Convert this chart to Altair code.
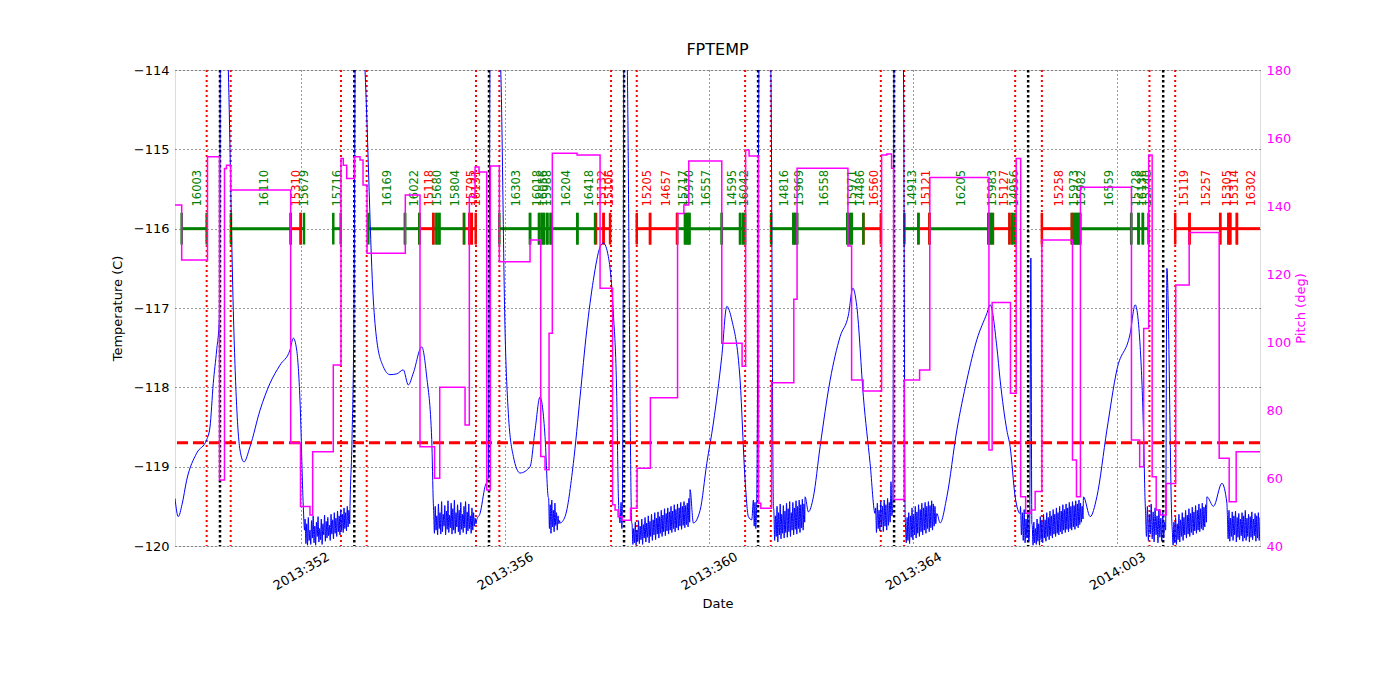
import altair as alt
import pandas as pd
import numpy as np

GREEN = "#008000"
RED = "#ff0000"
BLUE = "#0000ff"
MAGENTA = "#ff00ff"
FONT = "DejaVu Sans"

X_DOMAIN = [349.53, 370.80]
T_DOMAIN = [-120, -114]
P_DOMAIN = [40, 180]
X_TICKS = [352, 356, 360, 364, 368]
T_TICKS = [-120, -119, -118, -117, -116, -115, -114]
P_TICKS = [40, 60, 80, 100, 120, 140, 160, 180]
LIMIT_T = -118.7
SEG_Y = -116.0
TICK_LO, TICK_HI = -116.2, -115.8
LABEL_Y = -115.72

# ---- FPTEMP key points (day of year, continuing past 2013:365) ----
temp_days = [
    349.53, 349.594, 349.667, 349.759, 349.955, 350.151, 350.216, 350.280, 350.347, 350.398,
    350.431, 350.575, 350.673, 350.804, 350.882, 351.0, 351.196, 351.392, 351.588, 351.784,
    351.849, 351.916, 351.980, 352.045, 352.070,
    352.961, 353.0, 353.04, 353.078, 353.255, 353.418, 353.484, 353.614, 353.745, 353.876,
    354.006, 354.104, 354.202, 354.367, 354.465, 354.563, 354.594,
    355.445, 355.510, 355.608, 355.673, 355.69, 355.72, 355.916, 356.0, 356.065, 356.163,
    356.294, 356.490, 356.588, 356.686, 356.784, 356.845,
    357.078, 357.176, 357.339, 357.471, 357.602, 357.731, 357.863, 357.927, 358.025, 358.124,
    358.190, 358.222, 358.255, 358.275, 358.29, 358.30, 358.343, 358.398, 358.484,
    359.627, 359.692, 359.824, 359.955, 360.084, 360.249, 360.347, 360.445, 360.608, 360.706,
    360.771, 360.837, 360.869, 360.885, 360.90, 360.915, 360.935, 361.0, 361.210, 361.261,
    361.882, 361.947, 362.045, 362.176, 362.373, 362.569, 362.731, 362.818, 362.896, 363.025,
    363.157, 363.255,
    363.637, 363.810, 363.843,
    364.465, 364.529, 364.661, 364.857, 365.053, 365.249, 365.445, 365.510, 365.641, 365.706,
    365.837, 365.902, 366.0, 366.098,
    366.308, 366.327,
    367.339, 367.471, 367.602, 367.798, 367.994, 368.255, 368.353, 368.451, 368.516, 368.549,
    368.975, 369.073,
    369.759, 369.888, 370.053, 370.151,
]
temp_vals = [
    -119.40, -119.63, -119.48, -119.17, -118.83, -118.66, -118.50, -117.95, -117.53, -117.15,
    -112.0, -114.0, -117.03, -118.79, -118.94, -118.75, -118.29, -117.95, -117.72, -117.53,
    -117.38, -117.53, -118.16, -119.50, -119.80,
    -119.50, -118.66, -116.9, -112.0, -114.0, -116.90, -117.40, -117.74, -117.84, -117.83,
    -117.78, -117.97, -117.82, -117.49, -117.87, -118.66, -119.46,
    -119.67, -119.59, -119.25, -119.13, -116.5, -112.0, -114.0, -117.28, -118.33, -118.87,
    -119.08, -119.0, -118.54, -118.12, -118.62, -119.38,
    -119.71, -119.63, -118.96, -118.12, -117.28, -116.65, -116.23, -116.18, -116.35, -117.07,
    -118.12, -119.38, -119.71, -119.45, -119.78, -119.5, -112.0, -114.0, -119.71,
    -119.29, -119.71, -119.55, -118.96, -118.45, -117.61, -116.98, -117.15, -117.91, -119.17,
    -119.63, -119.67, -119.42, -119.75, -119.45, -119.78, -119.38, -112.0, -114.0, -119.50,
    -119.38, -119.57, -119.38, -118.75, -117.91, -117.36, -117.09, -116.75, -116.98, -118.12,
    -118.96, -119.59,
    -112.0, -114.0, -119.59,
    -119.59, -119.71, -119.38, -118.54, -117.91, -117.40, -117.07, -116.96, -117.49, -117.91,
    -118.54, -118.75, -119.38, -119.59,
    -116.37, -119.71,
    -119.38, -119.63, -119.38, -118.54, -117.78, -117.32, -116.96, -117.49, -118.54, -119.46,
    -116.50, -119.71,
    -119.38, -119.50, -119.21, -119.46,
]

# ---- noisy stretches of FPTEMP: (first day, last day, sampled values) ----
noise_r1 = [-119.66, -119.97, -119.72, -119.99, -119.64, -119.93, -119.80, -119.98, -119.68, -119.90,
            -119.62, -119.96, -119.75, -119.99, -119.70, -119.88, -119.63, -119.95, -119.78, -119.92,
            -119.66, -119.98, -119.72, -119.86, -119.61, -119.94, -119.69, -119.90, -119.64, -119.87,
            -119.74, -119.93, -119.60, -119.85, -119.67, -119.91, -119.58, -119.84, -119.65, -119.88,
            -119.56, -119.82, -119.62, -119.86, -119.54, -119.80, -119.60, -119.83, -119.52, -119.78,
            -119.58, -119.81, -119.50, -119.76, -119.55, -119.72]
noise_r2 = [-119.55, -119.84, -119.50, -119.80, -119.62, -119.86, -119.47, -119.78, -119.58, -119.85,
            -119.44, -119.82, -119.60, -119.75, -119.49, -119.86, -119.56, -119.79, -119.43, -119.83,
            -119.61, -119.77, -119.46, -119.85, -119.53, -119.80, -119.42, -119.84, -119.58, -119.76,
            -119.48, -119.82, -119.55, -119.86, -119.45, -119.79, -119.60, -119.83, -119.50, -119.77,
            -119.44, -119.85, -119.57, -119.81, -119.47, -119.78, -119.62, -119.84, -119.52, -119.80,
            -119.58, -119.75, -119.65, -119.72]
noise_r3 = [-119.40, -119.78, -119.48, -119.84, -119.42, -119.76, -119.55, -119.82, -119.46, -119.74,
            -119.58, -119.80, -119.62, -119.72, -119.68]
noise_r4 = [-119.72, -119.98, -119.78, -119.96, -119.70, -119.99, -119.80, -119.94, -119.68, -119.97,
            -119.75, -119.92, -119.66, -119.98, -119.73, -119.90, -119.64, -119.95, -119.71, -119.89,
            -119.62, -119.96, -119.69, -119.88, -119.60, -119.93, -119.67, -119.86, -119.58, -119.92,
            -119.65, -119.85, -119.57, -119.90, -119.63, -119.84, -119.55, -119.88, -119.61, -119.82,
            -119.53, -119.87, -119.59, -119.81, -119.52, -119.85, -119.57, -119.80, -119.50, -119.83,
            -119.56, -119.78, -119.48, -119.82, -119.54, -119.77, -119.47, -119.80, -119.52, -119.75,
            -119.45, -119.79, -119.50, -119.74, -119.44, -119.77, -119.49, -119.73, -119.46, -119.76,
            -119.40, -119.70]
noise_r5 = [-119.55, -119.93, -119.62, -119.88, -119.50, -119.95, -119.58, -119.86, -119.47, -119.91,
            -119.60, -119.84, -119.49, -119.90, -119.56, -119.83, -119.46, -119.89, -119.53, -119.82,
            -119.44, -119.88, -119.58, -119.80, -119.45, -119.86, -119.52, -119.79, -119.43, -119.85,
            -119.50, -119.78, -119.42, -119.83, -119.48, -119.77, -119.41, -119.80, -119.47, -119.70]
noise_r6 = [-119.52, -119.83, -119.46, -119.78, -119.55, -119.81, -119.44, -119.76, -119.50, -119.82,
            -119.42, -119.75, -119.48, -119.80, -119.40, -119.74, -119.45, -119.70, -119.19, -119.62,
            -119.50]
noise_r7 = [-119.72, -119.96, -119.64, -119.93, -119.58, -119.97, -119.62, -119.89, -119.52, -119.92,
            -119.60, -119.86, -119.50, -119.90, -119.57, -119.84, -119.48, -119.88, -119.54, -119.82,
            -119.46, -119.86, -119.52, -119.80, -119.45, -119.84, -119.50, -119.78, -119.44, -119.82,
            -119.49, -119.77, -119.43, -119.80, -119.47, -119.75, -119.50, -119.72, -119.60]
noise_r8 = [-119.50, -119.86, -119.58, -119.93, -119.54, -119.96, -119.66, -119.90, -119.60, -119.94,
            -119.75]
noise_r9 = [-119.74, -119.99, -119.70, -119.96, -119.78, -119.98, -119.66, -119.94, -119.72, -119.99,
            -119.63, -119.92, -119.69, -119.96, -119.60, -119.90, -119.67, -119.94, -119.58, -119.88,
            -119.64, -119.92, -119.56, -119.87, -119.62, -119.90, -119.54, -119.85, -119.60, -119.88,
            -119.52, -119.84, -119.58, -119.86, -119.50, -119.82, -119.56, -119.85, -119.48, -119.80,
            -119.54, -119.83, -119.47, -119.79, -119.52, -119.82, -119.45, -119.78, -119.50, -119.80,
            -119.44, -119.76, -119.49, -119.79, -119.43, -119.75, -119.47, -119.77, -119.42, -119.73,
            -119.46, -119.70, -119.50, -119.66]
noise_r10 = [-119.55, -119.88, -119.50, -119.93, -119.60, -119.85, -119.47, -119.91, -119.57, -119.95,
             -119.52, -119.86, -119.62, -119.96, -119.54, -119.89, -119.65, -119.94, -119.58, -119.90,
             -119.70, -119.80]
noise_r11 = [-119.80, -119.99, -119.70, -119.96, -119.64, -119.98, -119.72, -119.92, -119.60, -119.95,
             -119.67, -119.88, -119.58, -119.93, -119.64, -119.86, -119.55, -119.90, -119.61, -119.85,
             -119.53, -119.88, -119.59, -119.83, -119.51, -119.86, -119.57, -119.81, -119.49, -119.84,
             -119.55, -119.80, -119.47, -119.82, -119.53, -119.78, -119.46, -119.80, -119.51, -119.76,
             -119.48, -119.70]
noise_r12 = [-119.60, -119.91, -119.55, -119.94, -119.65, -119.88, -119.57, -119.93, -119.62, -119.86,
             -119.56, -119.95, -119.64, -119.89, -119.59, -119.92, -119.66, -119.87, -119.58, -119.94,
             -119.62, -119.90, -119.55, -119.93, -119.65, -119.88, -119.60, -119.95, -119.63, -119.89,
             -119.57, -119.92, -119.66, -119.87, -119.59, -119.94, -119.62, -119.90, -119.58, -119.93,
             -119.64]
noise_spans = [
    (352.08, 352.955, noise_r1), (354.60, 355.43, noise_r2), (356.855, 357.07, noise_r3),
    (358.49, 359.62, noise_r4), (361.27, 361.875, noise_r5), (363.265, 363.60, noise_r6),
    (363.85, 364.46, noise_r7), (366.105, 366.285, noise_r8), (366.335, 367.33, noise_r9),
    (368.555, 368.95, noise_r10), (369.08, 369.75, noise_r11), (370.16, 370.80, noise_r12),
]

# ---- pitch (step changes) ----
pitch_days = [
    349.53, 349.661, 350.167, 350.402, 350.500, 350.539, 350.622, 351.798, 351.990, 352.176,
    352.229, 352.633, 352.784, 352.829, 352.896, 353.045, 353.157, 353.216, 353.294, 354.045,
    354.333, 354.618, 354.720, 355.216, 355.300, 355.412, 355.490, 355.641, 355.712, 355.888,
    356.490, 356.700, 356.784, 356.863, 356.927, 357.412, 357.863, 358.108, 358.157, 358.216,
    358.294, 358.461, 358.588, 358.849, 359.382, 359.506, 359.602, 360.249, 360.647, 360.716,
    360.784, 360.967, 361.014, 361.225, 361.661, 361.725, 362.722, 362.794, 363.020, 363.382,
    363.484, 363.578, 363.618, 363.824, 364.127, 364.327, 365.486, 365.549, 365.908, 366.020,
    366.108, 366.206, 366.314, 366.392, 366.524, 367.124, 367.202, 367.280, 368.280, 368.441,
    368.520, 368.618, 368.686, 368.765, 368.843, 368.961, 369.147, 369.412, 370.000, 370.196,
    370.333, 370.804,
]
pitch_vals = [
    140.3, 124.1, 154.5, 59.4, 151.0, 152.0, 144.7, 70.3, 51.6, 49.1,
    67.7, 93.2, 154.0, 152.0, 148.1, 154.5, 153.5, 146.2, 126.1, 143.2,
    69.2, 59.9, 86.7, 75.6, 142.7, 151.5, 150.0, 56.5, 151.8, 123.6,
    130.0, 66.3, 62.4, 102.6, 155.5, 155.0, 115.8, 52.1, 50.6, 48.6,
    47.6, 51.1, 62.9, 83.6, 137.8, 140.3, 153.2, 99.6, 92.9, 156.5,
    154.7, 52.6, 51.1, 88.0, 112.6, 151.1, 128.2, 88.8, 85.6, 155.0,
    155.3, 151.1, 53.7, 88.8, 91.8, 148.4, 68.2, 111.6, 84.9, 154.0,
    54.5, 49.6, 50.6, 56.0, 130.0, 65.3, 54.5, 145.5, 71.2, 63.3,
    104.0, 155.0, 60.4, 50.6, 49.1, 58.4, 116.8, 132.2, 65.8, 53.0,
    67.7, 67.7,
]

# ---- vertical event lines ----
radzone_days = [350.151, 350.622, 352.784, 353.288, 355.431, 355.888, 358.078, 358.582,
                360.706, 361.210, 363.367, 363.824, 366.0, 366.524, 368.633, 369.137]
perigee_days = [350.412, 353.045, 355.686, 358.333, 360.961, 363.627, 366.255, 368.902]

# ---- observation segments: start, end, colour ----
seg_start = [349.661, 350.627, 351.798, 351.994, 352.633, 353.320, 354.039, 354.320, 354.594, 354.657,
             354.712, 355.196, 355.300, 355.347, 355.888, 356.490, 356.667, 356.720, 356.765, 356.829,
             356.896, 357.418, 357.784, 357.931, 358.582, 358.843, 359.373, 359.529, 359.573, 359.614,
             360.249, 360.608, 360.667, 361.216, 361.653, 361.690, 361.725, 362.712, 362.755, 362.798,
             363.025, 363.829, 364.104, 364.320, 365.476, 365.520, 365.563, 365.888, 365.947, 366.524,
             367.112, 367.150, 367.196, 367.235, 367.275, 368.275, 368.418, 368.504, 369.137, 369.418,
             370.020, 370.182, 370.216, 370.347]
seg_end = [350.151, 351.798, 351.994, 352.059, 352.778, 354.039, 354.320, 354.594, 354.657, 354.712,
           355.196, 355.300, 355.347, 355.425, 356.490, 356.667, 356.720, 356.765, 356.829, 356.896,
           357.418, 357.765, 357.931, 358.059, 358.843, 359.373, 359.529, 359.573, 359.614, 360.249,
           360.608, 360.667, 360.706, 361.653, 361.690, 361.725, 362.712, 362.755, 362.798, 363.025,
           363.367, 364.104, 364.320, 365.476, 365.520, 365.563, 365.888, 365.947, 366.0, 367.112,
           367.150, 367.196, 367.235, 367.275, 368.275, 368.418, 368.504, 368.614, 369.418, 370.020,
           370.182, 370.216, 370.347, 370.85]
seg_color = ["g", "g", "r", "g", "g", "g", "g", "r", "g", "g",
             "g", "r", "r", "r", "g", "g", "g", "g", "g", "g",
             "g", "g", "r", "r", "r", "r", "g", "g", "g", "g",
             "g", "g", "g", "g", "g", "g", "g", "g", "g", "g",
             "r", "g", "r", "g", "g", "g", "r", "g", "g", "r",
             "g", "g", "g", "g", "g", "g", "g", "g", "r", "r",
             "r", "r", "r", "r"]

# ---- observation id labels ----
obs_day = [349.980, 351.294, 351.916, 352.078, 352.725, 353.706, 354.235, 354.529, 354.686, 355.039,
           355.347, 355.445, 356.229, 356.647, 356.765, 356.843, 357.210, 357.667, 357.927, 358.059,
           358.804, 359.182, 359.510, 359.627, 359.955, 360.471, 360.706, 361.490, 361.784, 362.275,
           362.824, 362.975, 363.255, 364.006, 364.269, 364.955, 365.575, 365.804, 366.0, 366.882,
           367.176, 367.308, 367.863, 368.386, 368.510, 368.608, 369.333, 369.759, 370.182, 370.314,
           370.641]
obs_id = ["16003", "16110", "15310", "15679", "15716", "16169", "16022", "15118", "15680", "15804",
          "15795", "16131", "16303", "16018", "16056", "15988", "16204", "16418", "15132", "15106",
          "15205", "14657", "15717", "15970", "16557", "14595", "16042", "14816", "15969", "16558",
          "15971", "14486", "16560", "14913", "15121", "16205", "15983", "15127", "14956", "15258",
          "15973", "15982", "16559", "15728", "16136", "15740", "15119", "15257", "15305", "15314",
          "16302"]
obs_color = ["g", "g", "r", "g", "g", "g", "g", "r", "g", "g",
             "r", "r", "g", "g", "g", "g", "g", "g", "r", "r",
             "r", "r", "g", "g", "g", "g", "g", "g", "g", "g",
             "g", "g", "r", "g", "r", "g", "g", "r", "g", "r",
             "g", "g", "g", "g", "g", "g", "r", "r", "r", "r",
             "r"]

CMAP = {"g": GREEN, "r": RED}

# ---------------- build tables ----------------
nd, nv = [], []
for a, b, vals in noise_spans:
    nd.extend(np.linspace(a, b, len(vals)).tolist())
    nv.extend(vals)
temp_df = pd.DataFrame({"day": temp_days + nd, "temp": temp_vals + nv}).sort_values("day")
pitch_df = pd.DataFrame({"day": pitch_days, "pitch": pitch_vals})
seg_df = pd.DataFrame({"start": seg_start, "end": seg_end,
                       "color": [CMAP[c] for c in seg_color], "y": SEG_Y})
tick_df = pd.DataFrame({
    "day": seg_start + seg_end,
    "color": [CMAP[c] for c in seg_color] * 2,
    "lo": TICK_LO, "hi": TICK_HI,
})
lab_df = pd.DataFrame({"day": obs_day, "label": obs_id,
                       "color": [CMAP[c] for c in obs_color], "y": LABEL_Y})
rad_df = pd.DataFrame({"day": radzone_days})
per_df = pd.DataFrame({"day": perigee_days})
lim_df = pd.DataFrame({"lim": [LIMIT_T]})

# ---------------- scales & axes ----------------
xs = alt.Scale(domain=X_DOMAIN, nice=False, zero=False)
ts = alt.Scale(domain=T_DOMAIN, nice=False, zero=False)
ps = alt.Scale(domain=P_DOMAIN, nice=False, zero=False)

x_axis = alt.Axis(
    title="Date", values=X_TICKS,
    labelExpr="datum.value < 366 ? '2013:' + format(datum.value, '03d') : '2014:' + format(datum.value - 365, '03d')",
    labelAngle=-30, labelAlign="center", labelBaseline="middle", labelPadding=25,
    ticks=False, domain=False, grid=True, gridDash=[1, 3], gridColor="black", gridWidth=0.8,
    gridOpacity=1, labelFontSize=13, titleFontSize=13, titleFontWeight="normal", titlePadding=5,
    labelColor="black", titleColor="black", labelFont=FONT, titleFont=FONT,
)
t_axis = alt.Axis(
    title="Temperature (C)", values=T_TICKS, format="d", grid=True, gridDash=[1, 3],
    gridColor="black", gridWidth=0.8, gridOpacity=1, ticks=False, domain=False,
    labelFontSize=13, labelColor="black", labelPadding=6, titleFontSize=13,
    titleFontWeight="normal", titlePadding=9, titleColor="black", labelFont=FONT, titleFont=FONT,
)
p_axis = alt.Axis(
    orient="right", title="Pitch (deg)", values=P_TICKS, format="d", grid=False, ticks=False,
    domain=False, labelFontSize=13, labelColor=MAGENTA, labelPadding=6, titleFontSize=13,
    titleFontWeight="normal", titleColor=MAGENTA, titlePadding=17, titleAngle=270,
    labelFont=FONT, titleFont=FONT,
)


def X(field):
    return alt.X(field, type="quantitative", scale=xs, axis=x_axis)


def YT(field):
    return alt.Y(field, type="quantitative", scale=ts, axis=t_axis)


segments = alt.Chart(seg_df).mark_rule(strokeWidth=3, clip=True).encode(
    x=X("start"), x2="end", y=YT("y"), color=alt.Color("color:N", scale=None))
ticks = alt.Chart(tick_df).mark_rule(strokeWidth=2.5, clip=True).encode(
    x=X("day"), y=YT("lo"), y2="hi", color=alt.Color("color:N", scale=None))
labels = alt.Chart(lab_df).mark_text(
    angle=270, align="left", baseline="middle", fontSize=11.5, font=FONT).encode(
    x=X("day"), y=YT("y"), text="label:N", color=alt.Color("color:N", scale=None))
radz = alt.Chart(rad_df).mark_rule(color=RED, strokeWidth=2, strokeDash=[2, 3]).encode(x=X("day"))
peri = alt.Chart(per_df).mark_rule(color="black", strokeWidth=2.5, strokeDash=[2.5, 2.5]).encode(x=X("day"))
temp_line = alt.Chart(temp_df).mark_line(
    color=BLUE, strokeWidth=1, clip=True, interpolate="monotone").encode(
    x=X("day"), y=YT("temp"))
limit = alt.Chart(lim_df).mark_rule(color=RED, strokeWidth=3, strokeDash=[11, 5]).encode(y=YT("lim"))

temp_layer = alt.layer(segments, ticks, labels, radz, peri, temp_line, limit)

pitch_line = alt.Chart(pitch_df).mark_line(
    color=MAGENTA, strokeWidth=1.5, interpolate="step-after", clip=True).encode(
    x=X("day"), y=alt.Y("pitch", type="quantitative", scale=ps, axis=p_axis))

chart = alt.layer(temp_layer, pitch_line).resolve_scale(y="independent").properties(
    width=1085, height=476,
    title=alt.TitleParams("FPTEMP", fontSize=16, fontWeight="normal", font=FONT, offset=6, color="black"),
    autosize=alt.AutoSizeParams(type="none"),
    padding={"left": 167, "top": 62, "right": 120, "bottom": 120},
).configure_view(stroke="black", strokeWidth=1).configure(font=FONT, background="white")

chart.save("out.html", embed_options={"renderer": "svg", "actions": False})
